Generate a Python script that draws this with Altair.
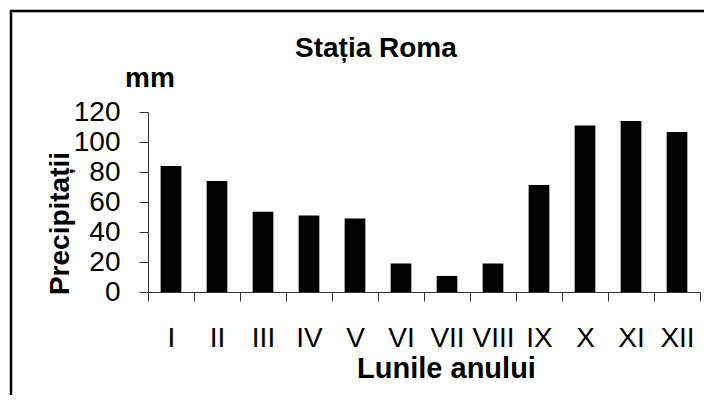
import altair as alt
import pandas as pd

months = ["I", "II", "III", "IV", "V", "VI", "VII", "VIII", "IX", "X", "XI", "XII"]
precip = [84, 74, 53.5, 51, 49, 19, 10.7, 19, 71.3, 111, 114, 106.7]
y_ticks = [0, 20, 40, 60, 80, 100, 120]
unit_label = ["mm"]
chart_title = ["Stația Roma"]

FONT = "Liberation Sans"
AXIS_COLOR = "#333333"

df = pd.DataFrame({"luna": months, "mm": precip})

bars = alt.Chart(df).mark_bar(color="black", width=alt.RelativeBandSize(0.45)).encode(
    x=alt.X(
        "luna:N",
        sort=months,
        scale=alt.Scale(paddingInner=0, paddingOuter=0),
        axis=alt.Axis(
            title="Lunile anului",
            labelAngle=0,
            labelFont=FONT,
            labelFontSize=28,
            labelColor="black",
            labelBaseline="alphabetic",
            labelPadding=45,
            labelOverlap=False,
            tickBand="extent",
            tickSize=9,
            tickColor=AXIS_COLOR,
            domainColor=AXIS_COLOR,
            titleFont=FONT,
            titleFontSize=29,
            titleFontWeight="bold",
            titleColor="black",
            titleX=298,
            titleY=85,
            titleAlign="center",
            titleBaseline="alphabetic",
        ),
    ),
    y=alt.Y(
        "mm:Q",
        scale=alt.Scale(domain=[0, 120], nice=False),
        axis=alt.Axis(
            title="Precipitații",
            values=y_ticks,
            grid=False,
            labelFont=FONT,
            labelFontSize=28,
            labelColor="black",
            labelPadding=19,
            labelOverlap=False,
            tickSize=9,
            tickColor=AXIS_COLOR,
            domainColor=AXIS_COLOR,
            titleFont=FONT,
            titleFontSize=28,
            titleFontWeight="bold",
            titleColor="black",
            titleAngle=270,
            titleX=-80,
            titleY=111,
            titleAlign="center",
            titleBaseline="alphabetic",
        ),
    ),
)

unit = alt.Chart(pd.DataFrame({"t": unit_label})).mark_text(
    font=FONT, fontSize=28, fontWeight="bold", align="left", baseline="alphabetic", color="black"
).encode(text="t:N", x=alt.value(-23), y=alt.value(-25))

title = alt.Chart(pd.DataFrame({"t": chart_title})).mark_text(
    font=FONT, fontSize=28, fontWeight="bold", align="left", baseline="alphabetic", color="black"
).encode(text="t:N", x=alt.value(147), y=alt.value(-55))

frame_df = pd.DataFrame({"k": [0]})
frame_left = alt.Chart(frame_df).mark_rule(color="black", strokeWidth=2.5).encode(
    x=alt.value(-137), y=alt.value(-102), y2=alt.value(300)
)
frame_top = alt.Chart(frame_df).mark_rule(color="black", strokeWidth=2.5).encode(
    x=alt.value(-138), x2=alt.value(560), y=alt.value(-101)
)

chart = alt.layer(bars, unit, title, frame_left, frame_top).properties(
    width=552,
    height=180,
    autosize=alt.AutoSizeParams(type="none"),
    padding={"left": 140, "top": 104, "right": 4, "bottom": 103},
    background="white",
).configure_view(strokeWidth=0)

chart.save("out.html", embed_options={"renderer": "svg", "actions": False})
